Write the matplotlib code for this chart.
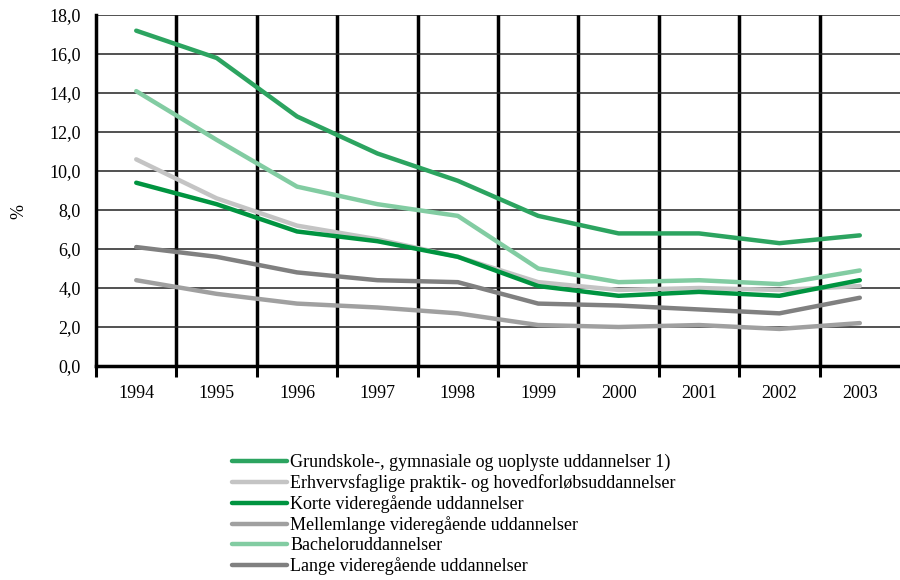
import matplotlib
matplotlib.use("Agg")
import matplotlib.pyplot as plt
from matplotlib.ticker import FixedLocator, FuncFormatter

years = ["1994", "1995", "1996", "1997", "1998", "1999", "2000", "2001", "2002", "2003"]
labels = [
    "Grundskole-, gymnasiale og uoplyste uddannelser 1)",
    "Erhvervsfaglige praktik- og hovedforløbsuddannelser",
    "Korte videregående uddannelser",
    "Mellemlange videregående uddannelser",
    "Bacheloruddannelser",
    "Lange videregående uddannelser",
]
grundskole = [17.2, 15.8, 12.8, 10.9, 9.5, 7.7, 6.8, 6.8, 6.3, 6.7]
erhverv = [10.6, 8.6, 7.2, 6.5, 5.6, 4.3, 3.9, 4.0, 3.9, 4.1]
korte = [9.4, 8.3, 6.9, 6.4, 5.6, 4.1, 3.6, 3.8, 3.6, 4.4]
mellem = [4.4, 3.7, 3.2, 3.0, 2.7, 2.1, 2.0, 2.1, 1.9, 2.2]
bachelor = [14.1, 11.6, 9.2, 8.3, 7.7, 5.0, 4.3, 4.4, 4.2, 4.9]
lange = [6.1, 5.6, 4.8, 4.4, 4.3, 3.2, 3.1, 2.9, 2.7, 3.5]
series = [grundskole, erhverv, korte, mellem, bachelor, lange]
colors = ["#2ca460", "#c4c4c4", "#009440", "#a0a0a0", "#82cca2", "#808080"]

plt.rcParams['font.family'] = ['Liberation Serif', 'DejaVu Serif']

fig = plt.figure(figsize=(9, 5.8), dpi=100)
ax = fig.add_axes([0.1067, 0.369, 0.8933, 0.605])

x = list(range(len(years)))
for vals, c, lab in zip(series, colors, labels):
    ax.plot(x, vals, color=c, lw=3.2, label=lab, solid_capstyle='round', zorder=3)

ax.set_xlim(-0.5, len(years) - 0.5)
ax.set_ylim(0, 18)
ax.set_yticks([i * 2 for i in range(10)])
ax.yaxis.set_major_formatter(FuncFormatter(lambda v, p: f"{v:.1f}".replace('.', ',')))

bounds = [i - 0.5 for i in range(len(years) + 1)]
ax.xaxis.set_major_locator(FixedLocator(bounds[:-1]))
ax.xaxis.set_major_formatter(FuncFormatter(lambda v, p: ""))
ax.xaxis.set_minor_locator(FixedLocator(x))
ax.set_xticks(x, years, minor=True)
ax.tick_params(axis='x', which='major', length=8, width=2.2, direction='out', color='black')
ax.tick_params(axis='x', which='minor', length=0, pad=14, labelsize=13)
ax.tick_params(axis='y', which='major', length=0, pad=11, labelsize=13)

for b in bounds[1:-1]:
    ax.axvline(b, color='black', lw=2.5, zorder=1)
for yv in range(2, 19, 2):
    ax.axhline(yv, color='#222222', lw=1.1, zorder=1)

for s in ['top', 'right']:
    ax.spines[s].set_visible(False)
ax.spines['left'].set_linewidth(2.5)
ax.spines['bottom'].set_linewidth(2.5)
ax.set_ylabel('%', fontsize=13)
ax.yaxis.set_label_coords(-0.085, 0.44)

fig.legend(loc='upper left', bbox_to_anchor=(0.258, 0.217), frameon=False,
           fontsize=13, handlelength=3.05, handletextpad=0.17, labelspacing=0.17,
           borderaxespad=0, borderpad=0)

fig.savefig("out.png", dpi=100)
